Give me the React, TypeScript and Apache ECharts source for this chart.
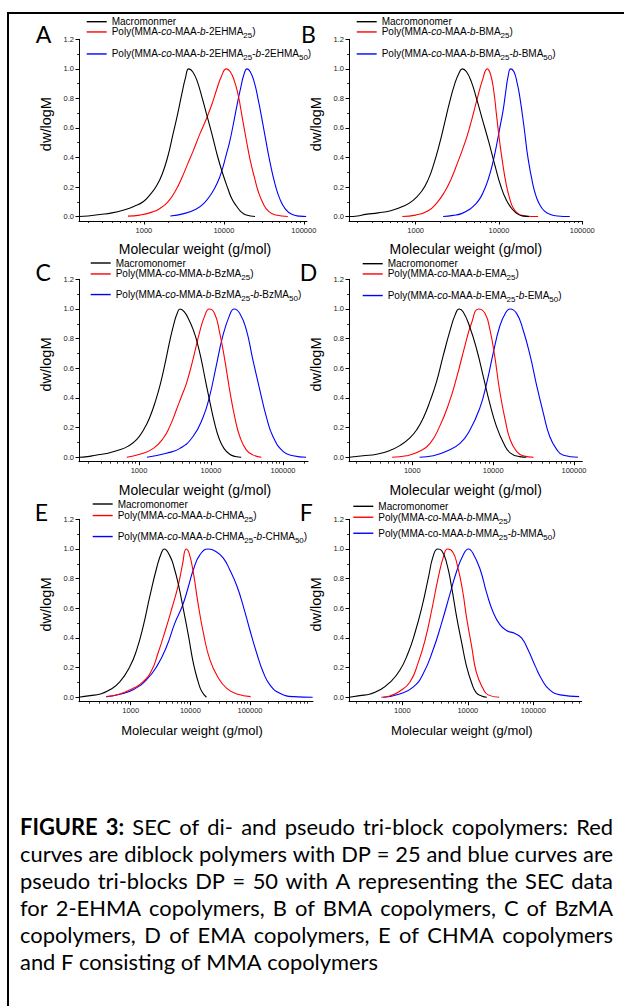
import React, { useEffect, useRef } from "react";
import * as echarts from "echarts";

// x = log10(molecular weight, g/mol), y = dw/logM
const aMacromonomer = [[2.19,0],[2.3,0.004],[2.45,0.014],[2.6,0.025],[2.75,0.045],[2.88,0.07],[2.99,0.1],[3.08,0.15],[3.16,0.21],[3.23,0.29],[3.3,0.41],[3.36,0.55],[3.42,0.69],[3.47,0.82],[3.52,0.94],[3.56,1.0],[3.61,0.98],[3.67,0.91],[3.73,0.8],[3.79,0.68],[3.85,0.56],[3.92,0.41],[3.98,0.3],[4.05,0.19],[4.1,0.12],[4.16,0.07],[4.22,0.03],[4.28,0.01],[4.39,0]];
const aDiblock = [[2.8,0.003],[2.95,0.01],[3.1,0.03],[3.2,0.055],[3.3,0.1],[3.4,0.18],[3.48,0.27],[3.55,0.36],[3.62,0.45],[3.7,0.56],[3.78,0.66],[3.85,0.76],[3.91,0.86],[3.97,0.95],[4.03,1.0],[4.08,0.98],[4.13,0.92],[4.18,0.82],[4.23,0.67],[4.28,0.52],[4.33,0.38],[4.38,0.27],[4.43,0.17],[4.49,0.09],[4.56,0.035],[4.65,0.01],[4.8,0]];
const aTriblock = [[3.33,0.004],[3.5,0.02],[3.65,0.05],[3.75,0.09],[3.85,0.16],[3.92,0.23],[3.98,0.32],[4.03,0.42],[4.07,0.5],[4.12,0.63],[4.17,0.77],[4.21,0.87],[4.25,0.96],[4.29,1.0],[4.33,0.98],[4.38,0.91],[4.43,0.79],[4.48,0.65],[4.53,0.5],[4.58,0.36],[4.64,0.22],[4.7,0.12],[4.77,0.05],[4.85,0.015],[4.95,0.003],[5.03,0]];

const bMacromonomer = [[2.2,0],[2.3,0.004],[2.4,0.015],[2.55,0.025],[2.7,0.04],[2.85,0.07],[2.97,0.11],[3.07,0.17],[3.15,0.25],[3.22,0.36],[3.29,0.5],[3.35,0.64],[3.41,0.78],[3.47,0.9],[3.52,0.97],[3.56,1.0],[3.61,0.98],[3.67,0.91],[3.73,0.8],[3.8,0.66],[3.88,0.5],[3.95,0.35],[4.02,0.21],[4.09,0.11],[4.16,0.05],[4.23,0.015],[4.3,0.003],[4.36,0]];
const bDiblock = [[2.84,0],[3.0,0.01],[3.15,0.04],[3.25,0.09],[3.35,0.17],[3.43,0.26],[3.5,0.36],[3.56,0.45],[3.62,0.55],[3.68,0.67],[3.74,0.8],[3.8,0.92],[3.86,1.0],[3.9,0.96],[3.94,0.84],[3.97,0.69],[4.01,0.5],[4.05,0.34],[4.09,0.21],[4.13,0.12],[4.17,0.06],[4.23,0.02],[4.3,0.006],[4.47,0]];
const bTriblock = [[3.33,0],[3.45,0.008],[3.55,0.02],[3.65,0.05],[3.72,0.085],[3.78,0.13],[3.83,0.19],[3.87,0.25],[3.92,0.35],[3.97,0.48],[4.01,0.6],[4.05,0.72],[4.08,0.84],[4.11,0.95],[4.14,1.0],[4.18,0.98],[4.22,0.9],[4.25,0.81],[4.3,0.61],[4.35,0.39],[4.41,0.21],[4.45,0.13],[4.49,0.08],[4.55,0.035],[4.61,0.016],[4.7,0.004],[4.85,0]];

const cMacromonomer = [[2.17,0],[2.28,0.004],[2.4,0.014],[2.55,0.025],[2.7,0.045],[2.85,0.075],[2.97,0.12],[3.07,0.19],[3.15,0.27],[3.23,0.38],[3.3,0.5],[3.37,0.65],[3.43,0.79],[3.49,0.91],[3.53,0.97],[3.57,1.0],[3.63,0.98],[3.7,0.92],[3.76,0.85],[3.8,0.79],[3.86,0.67],[3.93,0.5],[3.99,0.36],[4.05,0.23],[4.11,0.13],[4.18,0.06],[4.26,0.02],[4.34,0.005],[4.42,0]];
const cDiblock = [[2.83,0],[3.01,0.02],[3.2,0.06],[3.34,0.13],[3.43,0.21],[3.52,0.32],[3.59,0.41],[3.66,0.5],[3.75,0.66],[3.84,0.84],[3.91,0.95],[3.975,1.0],[4.05,0.97],[4.12,0.84],[4.19,0.66],[4.26,0.45],[4.33,0.27],[4.4,0.14],[4.49,0.05],[4.58,0.016],[4.7,0]];
const cTriblock = [[3.11,0],[3.38,0.027],[3.57,0.06],[3.75,0.14],[3.89,0.27],[3.98,0.41],[4.07,0.61],[4.16,0.81],[4.26,0.96],[4.32,1.0],[4.4,0.97],[4.49,0.86],[4.58,0.66],[4.68,0.45],[4.77,0.27],[4.86,0.14],[5.0,0.04],[5.14,0.01],[5.32,0]];

const dMacromonomer = [[2.22,0],[2.39,0.01],[2.56,0.02],[2.72,0.045],[2.85,0.08],[2.97,0.13],[3.06,0.19],[3.14,0.27],[3.22,0.38],[3.3,0.51],[3.38,0.68],[3.47,0.86],[3.53,0.96],[3.58,1.0],[3.63,0.98],[3.71,0.88],[3.8,0.72],[3.88,0.54],[3.96,0.36],[4.04,0.21],[4.13,0.094],[4.21,0.03],[4.33,0.004],[4.41,0]];
const dDiblock = [[2.75,0],[2.93,0.01],[3.09,0.04],[3.22,0.094],[3.34,0.21],[3.45,0.36],[3.55,0.54],[3.65,0.75],[3.73,0.9],[3.82,1.0],[3.9,0.97],[3.96,0.86],[4.02,0.68],[4.08,0.45],[4.15,0.25],[4.21,0.12],[4.29,0.04],[4.37,0.01],[4.5,0]];
const dTriblock = [[3.09,0],[3.26,0.01],[3.42,0.04],[3.59,0.094],[3.71,0.18],[3.84,0.34],[3.92,0.5],[4.0,0.7],[4.08,0.88],[4.15,0.97],[4.21,1.0],[4.29,0.97],[4.37,0.86],[4.46,0.68],[4.54,0.48],[4.62,0.3],[4.7,0.14],[4.79,0.05],[4.87,0.013],[5.05,0]];

const eMacromonomer = [[2.13,0],[2.32,0.011],[2.49,0.022],[2.65,0.05],[2.82,0.105],[2.99,0.21],[3.1,0.32],[3.21,0.48],[3.32,0.68],[3.44,0.88],[3.52,0.98],[3.56,1.0],[3.66,0.95],[3.73,0.87],[3.8,0.76],[3.88,0.6],[3.97,0.41],[4.05,0.23],[4.13,0.105],[4.19,0.04],[4.27,0]];
const eDiblock = [[2.59,0.004],[2.82,0.022],[3.04,0.06],[3.21,0.105],[3.35,0.18],[3.46,0.3],[3.58,0.45],[3.69,0.6],[3.8,0.76],[3.87,0.9],[3.93,1.0],[3.98,0.97],[4.05,0.84],[4.13,0.63],[4.22,0.43],[4.33,0.25],[4.47,0.13],[4.61,0.06],[4.78,0.022],[5.01,0.004]];
const eTriblock = [[2.59,0.003],[2.82,0.02],[3.04,0.05],[3.27,0.12],[3.44,0.21],[3.6,0.34],[3.74,0.5],[3.87,0.62],[3.97,0.75],[4.05,0.86],[4.16,0.96],[4.3,1.0],[4.44,0.98],[4.55,0.94],[4.66,0.86],[4.78,0.75],[4.89,0.61],[5.0,0.45],[5.11,0.3],[5.22,0.17],[5.34,0.08],[5.5,0.027],[5.73,0.004],[6.05,0]];

const fMacromonomer = [[2.19,0],[2.35,0.011],[2.51,0.022],[2.66,0.05],[2.81,0.1],[2.96,0.18],[3.09,0.3],[3.19,0.43],[3.3,0.61],[3.4,0.81],[3.47,0.95],[3.54,1.0],[3.6,0.99],[3.68,0.9],[3.75,0.75],[3.83,0.54],[3.91,0.36],[3.98,0.21],[4.06,0.094],[4.13,0.03],[4.21,0.009],[4.29,0]];
const fDiblock = [[2.68,0],[2.81,0.009],[2.96,0.04],[3.12,0.105],[3.24,0.23],[3.35,0.39],[3.45,0.59],[3.55,0.81],[3.63,0.95],[3.69,1.0],[3.77,0.98],[3.84,0.89],[3.92,0.72],[3.98,0.54],[4.06,0.34],[4.13,0.17],[4.23,0.06],[4.31,0.016],[4.48,0]];
const fTriblock = [[2.71,0],[2.96,0.022],[3.17,0.07],[3.32,0.16],[3.47,0.32],[3.6,0.5],[3.73,0.7],[3.83,0.85],[3.93,0.96],[4.01,1.0],[4.08,0.97],[4.19,0.86],[4.29,0.7],[4.39,0.57],[4.49,0.49],[4.59,0.45],[4.72,0.43],[4.82,0.4],[4.92,0.32],[5.03,0.21],[5.13,0.12],[5.25,0.05],[5.41,0.016],[5.7,0.004]];

// legend labels: *italic*, _subscript_
const legendA = ["Macromonmer", "Poly(MMA-*co*-MAA-*b*-2EHMA_25_)", "Poly(MMA-*co*-MAA-*b*-2EHMA_25_-*b*-2EHMA_50_)"];
const legendB = ["Macromonomer", "Poly(MMA-*co*-MAA-*b*-BMA_25_)", "Poly(MMA-*co*-MAA-*b*-BMA_25_-*b*-BMA_50_)"];
const legendC = ["Macromonomer", "Poly(MMA-*co*-MMA-*b*-BzMA_25_)", "Poly(MMA-*co*-MMA-*b*-BzMA_25_-*b*-BzMA_50_)"];
const legendD = ["Macromonomer", "Poly(MMA-*co*-MAA-*b*-EMA_25_)", "Poly(MMA-*co*-MAA-*b*-EMA_25_-*b*-EMA_50_)"];
const legendE = ["Macromonomer", "Poly(MMA-*co*-MAA-*b*-CHMA_25_)", "Poly(MMA-*co*-MAA-*b*-CHMA_25_-*b*-CHMA_50_)"];
const legendF = ["Macromonomer", "Poly(MMA-*co*-MAA-*b*-MMA_25_)", "Poly(MMA-co-MAA-*b*-MMA_25_-*b*-MMA_50_)"];

const panelLetters = ["A", "B", "C", "D", "E", "F"];
const xTickLogs = [3, 4, 5];
const xTickLabels = ["1000", "10000", "100000"];
const yTickValues = [0, 0.2, 0.4, 0.6, 0.8, 1.0, 1.2];
const yTickLabels = ["0.0", "0.2", "0.4", "0.6", "0.8", "1.0", "1.2"];
const yMinorValues = [0.1, 0.3, 0.5, 0.7, 0.9, 1.1];
const xAxisTitle = "Molecular weight (g/mol)";
const yAxisTitle = "dw/logM";
const captionLines = [
  "**FIGURE 3:** SEC of di- and pseudo tri-block copolymers: Red",
  "curves are diblock polymers with DP = 25 and blue curves are",
  "pseudo tri-blocks DP = 50 with A representing the SEC data",
  "for 2-EHMA copolymers, B of BMA copolymers, C of BzMA",
  "copolymers, D of EMA copolymers, E of CHMA copolymers",
  "and F consisting of MMA copolymers",
];

const panelSeries = [
  [aMacromonomer, aDiblock, aTriblock],
  [bMacromonomer, bDiblock, bTriblock],
  [cMacromonomer, cDiblock, cTriblock],
  [dMacromonomer, dDiblock, dTriblock],
  [eMacromonomer, eDiblock, eTriblock],
  [fMacromonomer, fDiblock, fTriblock],
];
const panelLegends = [legendA, legendB, legendC, legendD, legendE, legendF];

// ---------- layout / style (kept apart from the data) ----------
const seriesColors = ["#000000", "#ff0000", "#0000ff"];
const AX_FONT = "'Liberation Sans', Arial, sans-serif";
const LETTER_FONT = "Lato, 'Noto Sans', sans-serif";
const layout = [
  { left: 79, top: 39.3, width: 228, height: 181.7, xMin: 2.1875, xMax: 5.04, letter: [35.8, 33.7], legLeft: 86.7, rows: [22.7, 34.7, 56.7], xName: 14, xGap: 21, xPad: [0, 0, 0, 4] },
  { left: 349, top: 39.3, width: 233.7, height: 181.7, xMin: 2.2, xMax: 5.005, letter: [301, 33.7], legLeft: 356.7, rows: [22.7, 34.7, 56.7], xName: 14, xGap: 21, xPad: [0, 0, 0, 0] },
  { left: 79, top: 279.3, width: 229, height: 182.4, xMin: 2.167, xMax: 5.347, letter: [35.5, 272.2], legLeft: 90.7, rows: [264, 276.7, 297.3], xName: 14, xGap: 21, xPad: [0, 0, 0, 3] },
  { left: 349, top: 279.3, width: 233.3, height: 182.4, xMin: 2.217, xMax: 5.103, letter: [299.8, 272.2], legLeft: 362.7, rows: [264.7, 276.7, 298.3], xName: 14, xGap: 21, xPad: [0, 0, 0, 0] },
  { left: 79, top: 519.3, width: 234, height: 182.4, xMin: 2.133, xMax: 6.056, letter: [34.8, 512.2], legLeft: 92.7, rows: [505, 518.3, 539.3], xName: 13, xGap: 22, xPad: [0, 8, 0, 0] },
  { left: 349, top: 519.3, width: 232.7, height: 182.4, xMin: 2.186, xMax: 5.739, letter: [299.8, 512.2], legLeft: 353.3, rows: [507.3, 520, 536], xName: 13, xGap: 22, xPad: [0, 7, 0, 0] },
];
const Y_MIN = -0.03;
const Y_MAX = 1.2;

function toRich(spec: string) {
  return spec
    .split(/(\*[^*]+\*|_[^_]+_)/)
    .filter((s) => s.length > 0)
    .map((seg) => {
      if (seg[0] === "*") return `{i|${seg.slice(1, -1)}}`;
      if (seg[0] === "_") return `{s|${seg.slice(1, -1)}}`;
      return `{n|${seg}}`;
    })
    .join("");
}
const plainName = (spec: string) => spec.replace(/[*_]/g, "");

const richStyles = {
  n: { fontSize: 10, fontFamily: AX_FONT, color: "#000", lineHeight: 12 },
  i: { fontSize: 10, fontFamily: AX_FONT, color: "#000", lineHeight: 12, fontStyle: "italic" },
  s: { fontSize: 8, fontFamily: AX_FONT, color: "#000", lineHeight: 15.5, verticalAlign: "bottom" },
};

function splitWords(line: string) {
  const boldMatch = line.match(/^\*\*(.+?)\*\*\s*/);
  const boldWords = boldMatch ? boldMatch[1].split(" ") : [];
  const rest = boldMatch ? line.slice(boldMatch[0].length) : line;
  return [
    ...boldWords.map((w) => ({ w, bold: true })),
    ...rest.split(" ").map((w) => ({ w, bold: false })),
  ];
}

function buildCaption(): any[] {
  const canvas = document.createElement("canvas");
  const ctx = canvas.getContext("2d")!;
  const family = "Lato";
  const x0 = 20;
  const x1 = 613;
  const y0 = 826;
  const lh = 27;
  const lastLineWidth = 358; // width of the (unjustified) last line in the figure
  ctx.font = `20px ${family}`;
  const w20 = ctx.measureText(captionLines[captionLines.length - 1]).width;
  const size = Math.round((20 * lastLineWidth) / w20 * 10) / 10;
  const els: any[] = [];
  captionLines.forEach((line, li) => {
    const words = splitWords(line);
    const widths = words.map((o) => {
      ctx.font = `${o.bold ? "bold " : ""}${size}px ${family}`;
      return ctx.measureText(o.w).width;
    });
    ctx.font = `${size}px ${family}`;
    const spaceW = ctx.measureText(" ").width;
    const total = widths.reduce((a, b) => a + b, 0);
    const last = li === captionLines.length - 1;
    const gap = last ? spaceW : (x1 - x0 - total) / (words.length - 1);
    let x = x0;
    words.forEach((o, i) => {
      els.push({
        type: "text",
        x,
        y: y0 + li * lh,
        silent: true,
        style: {
          text: o.w,
          fontSize: size,
          fontFamily: family,
          fontWeight: o.bold ? "bold" : "normal",
          fill: "#000",
          verticalAlign: "middle",
          align: "left",
        },
      });
      x += widths[i] + gap;
    });
  });
  return els;
}

function buildOption() {
  const grid: any[] = [];
  const xAxis: any[] = [];
  const yAxis: any[] = [];
  const series: any[] = [];
  const legend: any[] = [];
  const graphic: any[] = [];

  layout.forEach((L, p) => {
    grid.push({ left: L.left, top: L.top, width: L.width, height: L.height });
    const minorX: number[] = [];
    [2, 3, 4, 5, 6].forEach((d) => {
      [2, 3, 4, 5, 6, 7, 8, 9].forEach((k) => {
        const v = d + Math.log10(k);
        if (v > L.xMin && v < L.xMax) minorX.push(v);
      });
    });
    const majorX = xTickLogs.filter((v) => v >= L.xMin && v <= L.xMax);
    xAxis.push({
      type: "value",
      gridIndex: p,
      min: L.xMin,
      max: L.xMax,
      position: "bottom",
      name: xAxisTitle,
      nameLocation: "middle",
      nameGap: L.xGap,
      nameTextStyle: { fontFamily: AX_FONT, fontSize: L.xName, color: "#000", padding: L.xPad },
      axisLine: { show: true, onZero: false, lineStyle: { color: "#000", width: 1 } },
      axisTick: { show: true, inside: false, length: 3.5, customValues: majorX, lineStyle: { color: "#000", width: 1 } },
      axisLabel: {
        show: true,
        margin: 5,
        fontSize: 7.5,
        fontFamily: AX_FONT,
        color: "#222",
        customValues: majorX,
        formatter: (v: number) => xTickLabels[xTickLogs.indexOf(Math.round(v))] ?? "",
      },
      splitLine: { show: false },
    });
    xAxis.push({
      type: "value",
      gridIndex: p,
      min: L.xMin,
      max: L.xMax,
      position: "bottom",
      axisLine: { show: false, onZero: false },
      axisTick: { show: true, inside: false, length: 2, customValues: minorX, lineStyle: { color: "#000", width: 0.8 } },
      axisLabel: { show: false },
      splitLine: { show: false },
    });
    yAxis.push({
      type: "value",
      gridIndex: p,
      min: Y_MIN,
      max: Y_MAX,
      position: "left",
      name: yAxisTitle,
      nameLocation: "middle",
      nameGap: 26,
      nameTextStyle: { fontFamily: AX_FONT, fontSize: 14.5, color: "#000", padding: [0, 0, 0, 12] },
      axisLine: { show: true, onZero: false, lineStyle: { color: "#000", width: 1 } },
      axisTick: { show: true, inside: false, length: 3.5, customValues: yTickValues, lineStyle: { color: "#000", width: 1 } },
      axisLabel: {
        show: true,
        margin: 5,
        fontSize: 7.5,
        fontFamily: AX_FONT,
        color: "#222",
        customValues: yTickValues,
        formatter: (v: number) => {
          const i = yTickValues.findIndex((t) => Math.abs(t - v) < 1e-6);
          return i >= 0 ? yTickLabels[i] : "";
        },
      },
      splitLine: { show: false },
    });
    yAxis.push({
      type: "value",
      gridIndex: p,
      min: Y_MIN,
      max: Y_MAX,
      position: "left",
      axisLine: { show: false, onZero: false },
      axisTick: { show: true, inside: false, length: 2, customValues: yMinorValues, lineStyle: { color: "#000", width: 0.8 } },
      axisLabel: { show: false },
      splitLine: { show: false },
    });

    const specs = panelLegends[p];
    panelSeries[p].forEach((data, k) => {
      const name = plainName(specs[k]);
      series.push({
        type: "line",
        name,
        xAxisIndex: 2 * p,
        yAxisIndex: 2 * p,
        data,
        showSymbol: false,
        symbol: "none",
        smooth: 0.5,
        color: seriesColors[k],
        lineStyle: { color: seriesColors[k], width: 1.1 },
        silent: true,
        z: 3 - k,
      });
      const hasSub = specs[k].includes("_");
      const rich = toRich(specs[k]);
      legend.push({
        data: [name],
        left: L.legLeft,
        top: L.rows[k] - (hasSub ? 7.75 : 6),
        orient: "vertical",
        padding: 0,
        itemWidth: 20,
        itemHeight: 1.4,
        icon: "rect",
        selectedMode: false,
        formatter: () => rich,
        textStyle: { fontFamily: AX_FONT, fontSize: 10, color: "#000", rich: richStyles },
      });
    });

    graphic.push({
      type: "text",
      x: L.letter[0],
      y: L.letter[1],
      silent: true,
      style: { text: panelLetters[p], fontSize: 23, fontFamily: LETTER_FONT, fill: "#000", verticalAlign: "middle", align: "left" },
    });
  });

  // frame of the figure box
  graphic.push({ type: "rect", silent: true, shape: { x: 7, y: 12, width: 617, height: 2 }, style: { fill: "#000" } });
  graphic.push({ type: "rect", silent: true, shape: { x: 7, y: 12, width: 2, height: 994 }, style: { fill: "#000" } });
  graphic.push(...buildCaption());

  return {
    animation: false,
    backgroundColor: "#ffffff",
    grid,
    xAxis,
    yAxis,
    series,
    legend,
    graphic,
  };
}

export default function App() {
  const ref = useRef<HTMLDivElement>(null);
  useEffect(() => {
    const chart = echarts.init(ref.current!, null, { renderer: "svg" });
    chart.setOption(buildOption() as any);
    return () => chart.dispose();
  }, []);
  return (
    <div
      ref={ref}
      style={{ position: "absolute", left: 0, top: 0, width: 624, height: 1006, background: "#fff" }}
    />
  );
}
